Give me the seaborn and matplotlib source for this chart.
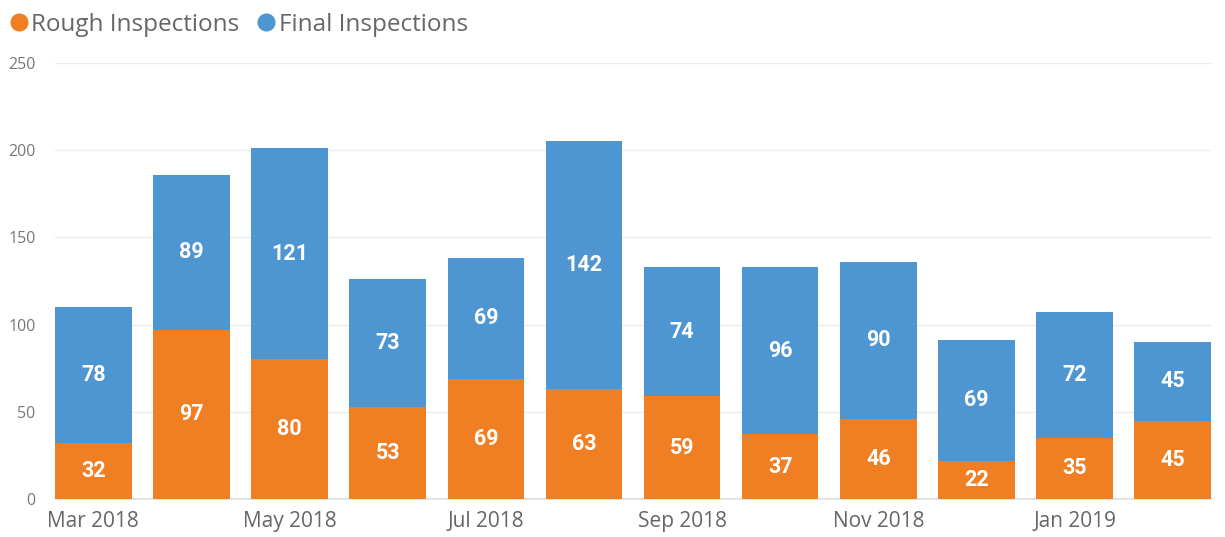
import matplotlib
matplotlib.use("Agg")
import matplotlib.pyplot as plt
import seaborn as sns
import numpy as np
from matplotlib.lines import Line2D

months = ["Mar 2018", "Apr 2018", "May 2018", "Jun 2018", "Jul 2018", "Aug 2018",
          "Sep 2018", "Oct 2018", "Nov 2018", "Dec 2018", "Jan 2019", "Feb 2019"]
rough = [32, 97, 80, 53, 69, 63, 59, 37, 46, 22, 35, 45]
final = [78, 89, 121, 73, 69, 142, 74, 96, 90, 69, 72, 45]
yticks = [0, 50, 100, 150, 200, 250]

ORANGE = "#F07E22"
BLUE = "#4E96D1"

sns.set_theme(style="white")
plt.rcParams["font.family"] = ["Open Sans", "DejaVu Sans"]

fig = plt.figure(figsize=(12.25, 5.37), dpi=100)
ax = fig.add_axes([0.0449, 0.0708, 0.9437, 0.8119])

sns.barplot(x=months, y=rough, color=ORANGE, width=0.78, saturation=1, ax=ax, zorder=3,
            linewidth=0, edgecolor="none")
sns.barplot(x=months, y=final, bottom=rough, color=BLUE, width=0.78, saturation=1, ax=ax, zorder=3,
            linewidth=0, edgecolor="none")

for i, (r, f) in enumerate(zip(rough, final)):
    ax.text(i, r / 2, str(r), ha="center", va="center", color="white",
            fontsize=15.5, fontweight="bold", family="Roboto", zorder=4)
    ax.text(i, r + f / 2, str(f), ha="center", va="center", color="white",
            fontsize=15.5, fontweight="bold", family="Roboto", zorder=4)

ax.set_ylim(0, 250)
ax.set_xlim(-0.39, 11.39)
ax.set_yticks(yticks)
ax.set_yticklabels([str(v) for v in yticks], color="#777777", fontsize=11.5)
ax.set_xticks(range(0, 12, 2))
ax.set_xticklabels([months[i] for i in range(0, 12, 2)], color="#666666", fontsize=15)
ax.tick_params(axis="y", pad=14, length=0)
ax.tick_params(axis="x", pad=9, length=0)
ax.yaxis.grid(True, color="#EBEBEB", linewidth=1, zorder=0)
ax.set_axisbelow(True)
for s in ["top", "right", "left"]:
    ax.spines[s].set_visible(False)
ax.spines["bottom"].set_color("#E0E0E0")
ax.set_xlabel("")
ax.set_ylabel("")

handles = [Line2D([0], [0], marker="o", linestyle="", markersize=12, markerfacecolor=ORANGE, markeredgecolor=ORANGE),
           Line2D([0], [0], marker="o", linestyle="", markersize=12, markerfacecolor=BLUE, markeredgecolor=BLUE)]
fig.legend(handles, ["Rough Inspections", "Final Inspections"], loc="upper left",
           bbox_to_anchor=(-0.012, 1.017), ncol=2, frameon=False, fontsize=17.5,
           handletextpad=0.0, columnspacing=0.6, labelcolor="#666666", handlelength=1.0)

fig.savefig("out.png", dpi=100)
